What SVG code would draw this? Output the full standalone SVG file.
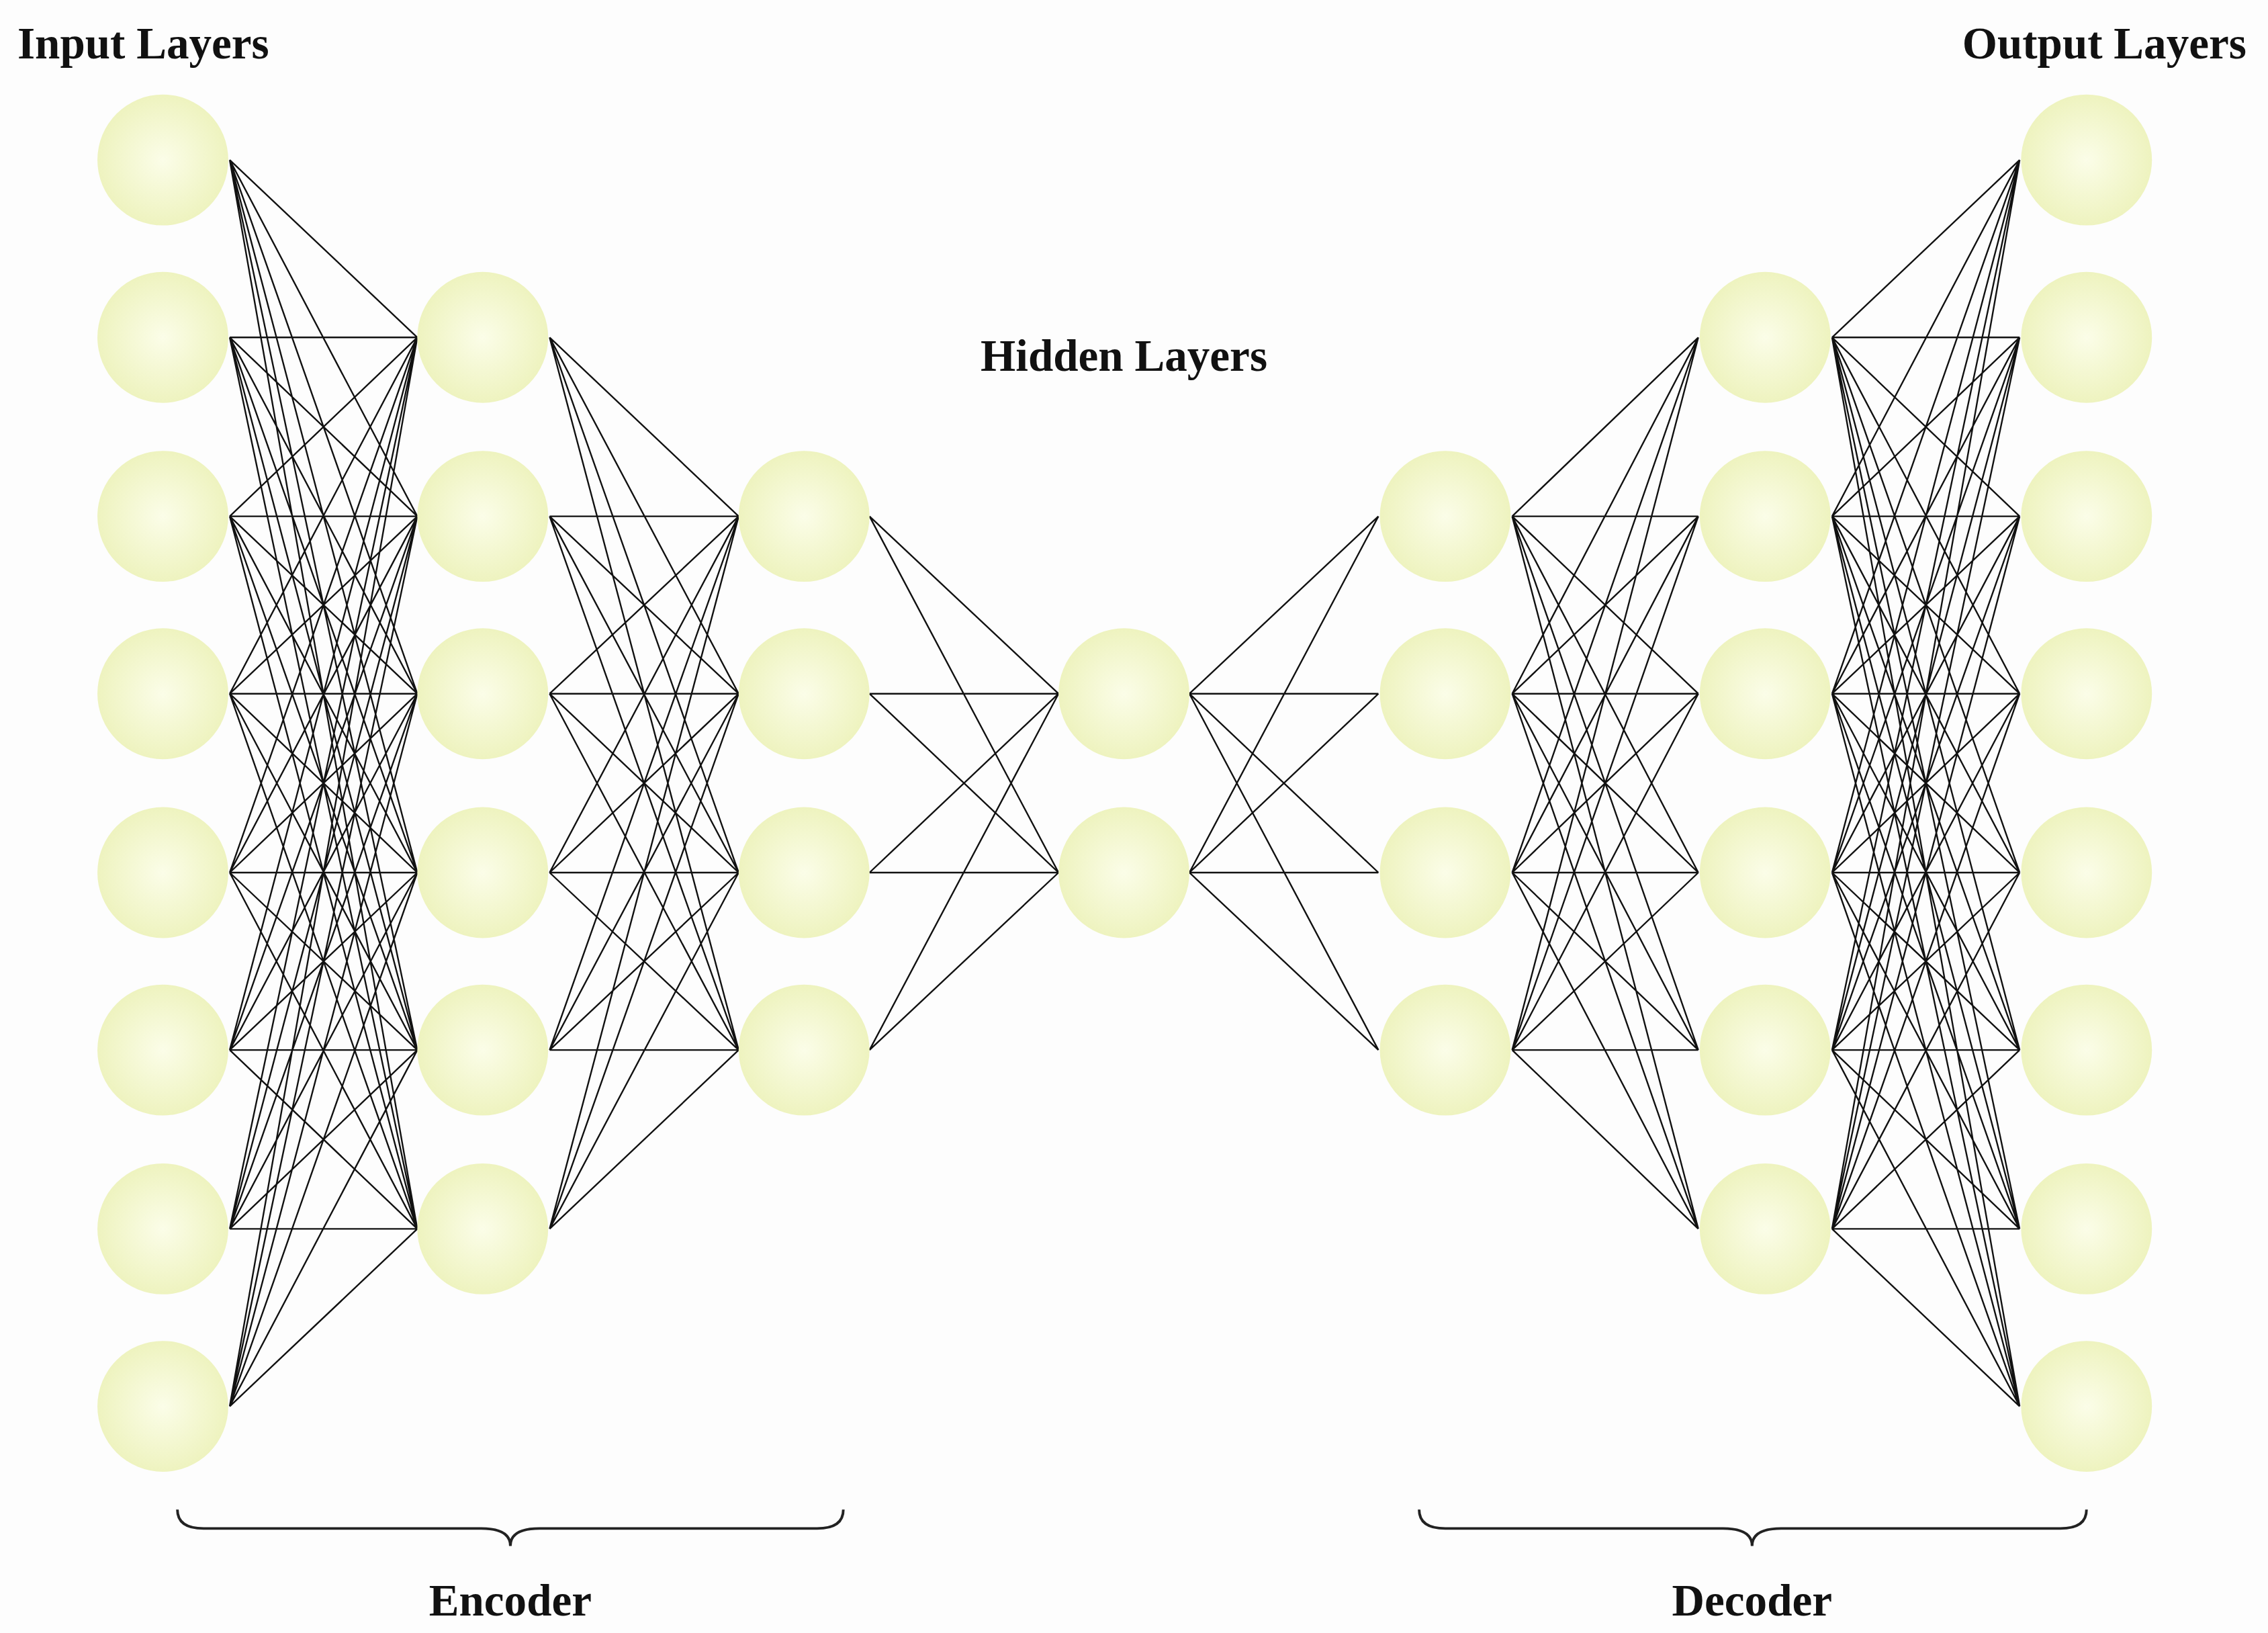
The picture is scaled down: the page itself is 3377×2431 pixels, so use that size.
<svg xmlns="http://www.w3.org/2000/svg" width="3377" height="2431" viewBox="0 0 3377 2431">
<style>
.t{font-family:"Liberation Serif","Times New Roman",serif;font-weight:bold;font-size:31px;fill:#111}
.e{stroke:#111;stroke-width:1.1;fill:none}
.n{fill:url(#g)}
.b{stroke:#222;stroke-width:1.8;fill:none}
</style>
<defs>
<radialGradient id="g" cx="0.5" cy="0.5" r="0.5">
<stop offset="0" stop-color="#fbfde8"/>
<stop offset="1" stop-color="#eef3bf"/>
</radialGradient>
<g id="node"><circle class="n" r="45"/></g>
</defs>
<rect width="3377" height="2431" fill="#fdfdfd"/>
<g transform="scale(2.165)">
<g id="connectors">
<path class="e" d="M158 110L287 232M158 110L287 355M158 110L287 477M158 110L287 600M158 110L287 722M158 110L287 845
M158 232L287 232M158 232L287 355M158 232L287 477M158 232L287 600M158 232L287 722M158 232L287 845
M158 355L287 232M158 355L287 355M158 355L287 477M158 355L287 600M158 355L287 722M158 355L287 845
M158 477L287 232M158 477L287 355M158 477L287 477M158 477L287 600M158 477L287 722M158 477L287 845
M158 600L287 232M158 600L287 355M158 600L287 477M158 600L287 600M158 600L287 722M158 600L287 845
M158 722L287 232M158 722L287 355M158 722L287 477M158 722L287 600M158 722L287 722M158 722L287 845
M158 845L287 232M158 845L287 355M158 845L287 477M158 845L287 600M158 845L287 722M158 845L287 845
M158 967L287 232M158 967L287 355M158 967L287 477M158 967L287 600M158 967L287 722M158 967L287 845"/>
<path class="e" d="M378 232L508 355M378 232L508 477M378 232L508 600M378 232L508 722
M378 355L508 355M378 355L508 477M378 355L508 600M378 355L508 722
M378 477L508 355M378 477L508 477M378 477L508 600M378 477L508 722
M378 600L508 355M378 600L508 477M378 600L508 600M378 600L508 722
M378 722L508 355M378 722L508 477M378 722L508 600M378 722L508 722
M378 845L508 355M378 845L508 477M378 845L508 600M378 845L508 722"/>
<path class="e" d="M598 355L728 477M598 355L728 600M598 477L728 477M598 477L728 600M598 600L728 477M598 600L728 600M598 722L728 477M598 722L728 600"/>
<path class="e" d="M818 477L948 355M818 477L948 477M818 477L948 600M818 477L948 722M818 600L948 355M818 600L948 477M818 600L948 600M818 600L948 722"/>
<path class="e" d="M1040 355L1168 232M1040 355L1168 355M1040 355L1168 477M1040 355L1168 600M1040 355L1168 722M1040 355L1168 845
M1040 477L1168 232M1040 477L1168 355M1040 477L1168 477M1040 477L1168 600M1040 477L1168 722M1040 477L1168 845
M1040 600L1168 232M1040 600L1168 355M1040 600L1168 477M1040 600L1168 600M1040 600L1168 722M1040 600L1168 845
M1040 722L1168 232M1040 722L1168 355M1040 722L1168 477M1040 722L1168 600M1040 722L1168 722M1040 722L1168 845"/>
<path class="e" d="M1260 232L1389 110M1260 232L1389 232M1260 232L1389 355M1260 232L1389 477M1260 232L1389 600M1260 232L1389 722M1260 232L1389 845M1260 232L1389 967
M1260 355L1389 110M1260 355L1389 232M1260 355L1389 355M1260 355L1389 477M1260 355L1389 600M1260 355L1389 722M1260 355L1389 845M1260 355L1389 967
M1260 477L1389 110M1260 477L1389 232M1260 477L1389 355M1260 477L1389 477M1260 477L1389 600M1260 477L1389 722M1260 477L1389 845M1260 477L1389 967
M1260 600L1389 110M1260 600L1389 232M1260 600L1389 355M1260 600L1389 477M1260 600L1389 600M1260 600L1389 722M1260 600L1389 845M1260 600L1389 967
M1260 722L1389 110M1260 722L1389 232M1260 722L1389 355M1260 722L1389 477M1260 722L1389 600M1260 722L1389 722M1260 722L1389 845M1260 722L1389 967
M1260 845L1389 110M1260 845L1389 232M1260 845L1389 355M1260 845L1389 477M1260 845L1389 600M1260 845L1389 722M1260 845L1389 845M1260 845L1389 967"/>
</g>
<g id="input-layer">
<use href="#node" x="112" y="110"/><use href="#node" x="112" y="232"/><use href="#node" x="112" y="355"/><use href="#node" x="112" y="477"/>
<use href="#node" x="112" y="600"/><use href="#node" x="112" y="722"/><use href="#node" x="112" y="845"/><use href="#node" x="112" y="967"/>
</g>
<g id="encoder-layer-1">
<use href="#node" x="332" y="232"/><use href="#node" x="332" y="355"/><use href="#node" x="332" y="477"/>
<use href="#node" x="332" y="600"/><use href="#node" x="332" y="722"/><use href="#node" x="332" y="845"/>
</g>
<g id="encoder-layer-2">
<use href="#node" x="553" y="355"/><use href="#node" x="553" y="477"/><use href="#node" x="553" y="600"/><use href="#node" x="553" y="722"/>
</g>
<g id="bottleneck">
<use href="#node" x="773" y="477"/><use href="#node" x="773" y="600"/>
</g>
<g id="decoder-layer-1">
<use href="#node" x="994" y="355"/><use href="#node" x="994" y="477"/><use href="#node" x="994" y="600"/><use href="#node" x="994" y="722"/>
</g>
<g id="decoder-layer-2">
<use href="#node" x="1214" y="232"/><use href="#node" x="1214" y="355"/><use href="#node" x="1214" y="477"/>
<use href="#node" x="1214" y="600"/><use href="#node" x="1214" y="722"/><use href="#node" x="1214" y="845"/>
</g>
<g id="output-layer">
<use href="#node" x="1435" y="110"/><use href="#node" x="1435" y="232"/><use href="#node" x="1435" y="355"/><use href="#node" x="1435" y="477"/>
<use href="#node" x="1435" y="600"/><use href="#node" x="1435" y="722"/><use href="#node" x="1435" y="845"/><use href="#node" x="1435" y="967"/>
</g>
<g id="labels">
<text class="t" x="12" y="40">Input Layers</text>
<text class="t" x="1545" y="40" text-anchor="end">Output Layers</text>
<text class="t" x="773" y="255" text-anchor="middle">Hidden Layers</text>
<text class="t" x="351" y="1111" text-anchor="middle">Encoder</text>
<text class="t" x="1205" y="1111" text-anchor="middle">Decoder</text>
</g>
<g id="braces">
<path class="b" d="M122 1038Q122 1051 140 1051L331 1051Q351 1051 351 1063Q351 1051 371 1051L562 1051Q580 1051 580 1038"/>
<path class="b" d="M976 1038Q976 1051 994 1051L1185 1051Q1205 1051 1205 1063Q1205 1051 1225 1051L1417 1051Q1435 1051 1435 1038"/>
</g>
</g>
</svg>
